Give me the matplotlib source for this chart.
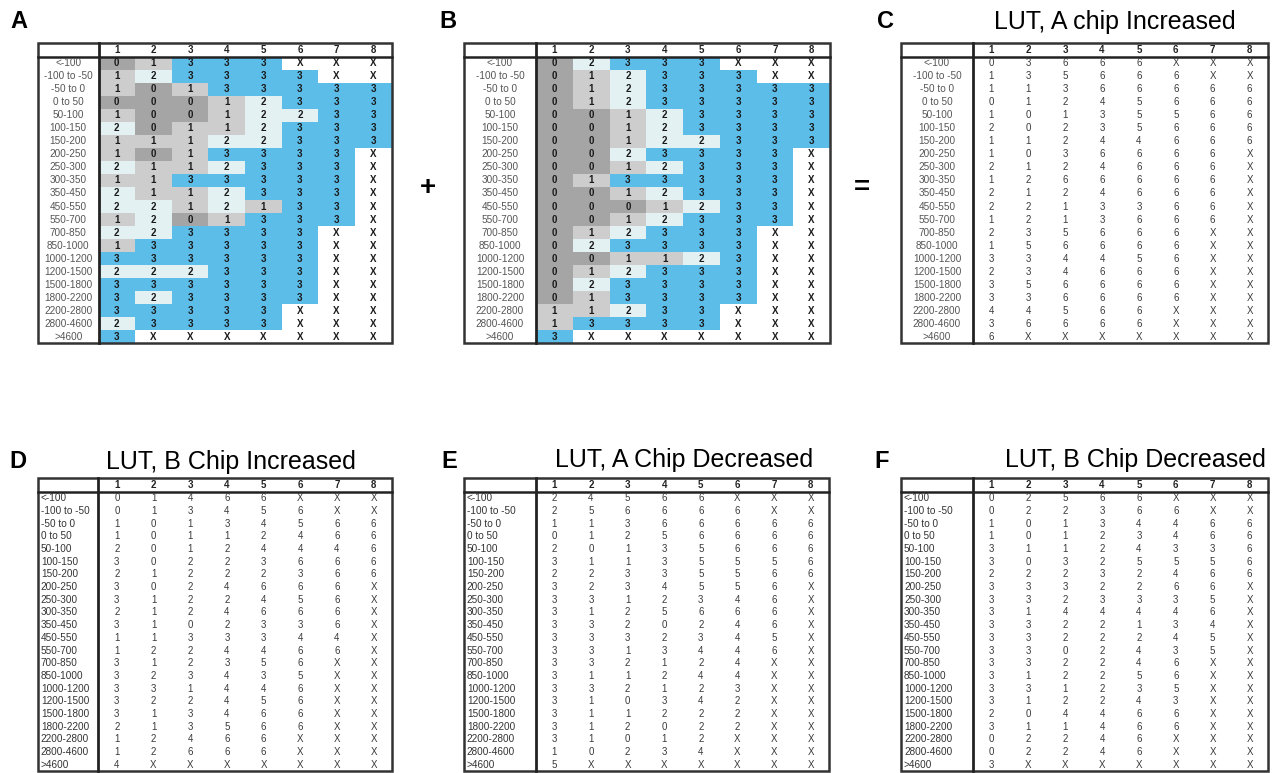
import matplotlib.pyplot as plt
from matplotlib.patches import Rectangle

plt.rcParams['font.family'] = ['Liberation Sans', 'DejaVu Sans']

W, H = 1273, 773
X = None  # chip not tested in that range

ranges = ['<-100', '-100 to -50', '-50 to 0', '0 to 50', '50-100', '100-150',
          '150-200', '200-250', '250-300', '300-350', '350-450', '450-550',
          '550-700', '700-850', '850-1000', '1000-1200', '1200-1500',
          '1500-1800', '1800-2200', '2200-2800', '2800-4600', '>4600']
chips = ['1', '2', '3', '4', '5', '6', '7', '8']

score_a = [
    [0, 1, 3, 3, 3, X, X, X],
    [1, 2, 3, 3, 3, 3, X, X],
    [1, 0, 1, 3, 3, 3, 3, 3],
    [0, 0, 0, 1, 2, 3, 3, 3],
    [1, 0, 0, 1, 2, 2, 3, 3],
    [2, 0, 1, 1, 2, 3, 3, 3],
    [1, 1, 1, 2, 2, 3, 3, 3],
    [1, 0, 1, 3, 3, 3, 3, X],
    [2, 1, 1, 2, 3, 3, 3, X],
    [1, 1, 3, 3, 3, 3, 3, X],
    [2, 1, 1, 2, 3, 3, 3, X],
    [2, 2, 1, 2, 1, 3, 3, X],
    [1, 2, 0, 1, 3, 3, 3, X],
    [2, 2, 3, 3, 3, 3, X, X],
    [1, 3, 3, 3, 3, 3, X, X],
    [3, 3, 3, 3, 3, 3, X, X],
    [2, 2, 2, 3, 3, 3, X, X],
    [3, 3, 3, 3, 3, 3, X, X],
    [3, 2, 3, 3, 3, 3, X, X],
    [3, 3, 3, 3, 3, X, X, X],
    [2, 3, 3, 3, 3, X, X, X],
    [3, X, X, X, X, X, X, X],
]

score_b = [
    [0, 2, 3, 3, 3, X, X, X],
    [0, 1, 2, 3, 3, 3, X, X],
    [0, 1, 2, 3, 3, 3, 3, 3],
    [0, 1, 2, 3, 3, 3, 3, 3],
    [0, 0, 1, 2, 3, 3, 3, 3],
    [0, 0, 1, 2, 3, 3, 3, 3],
    [0, 0, 1, 2, 2, 3, 3, 3],
    [0, 0, 2, 3, 3, 3, 3, X],
    [0, 0, 1, 2, 3, 3, 3, X],
    [0, 1, 3, 3, 3, 3, 3, X],
    [0, 0, 1, 2, 3, 3, 3, X],
    [0, 0, 0, 1, 2, 3, 3, X],
    [0, 0, 1, 2, 3, 3, 3, X],
    [0, 1, 2, 3, 3, 3, X, X],
    [0, 2, 3, 3, 3, 3, X, X],
    [0, 0, 1, 1, 2, 3, X, X],
    [0, 1, 2, 3, 3, 3, X, X],
    [0, 2, 3, 3, 3, 3, X, X],
    [0, 1, 3, 3, 3, 3, X, X],
    [1, 1, 2, 3, 3, X, X, X],
    [1, 3, 3, 3, 3, X, X, X],
    [3, X, X, X, X, X, X, X],
]

lut_a_inc = [
    [0, 3, 6, 6, 6, X, X, X],
    [1, 3, 5, 6, 6, 6, X, X],
    [1, 1, 3, 6, 6, 6, 6, 6],
    [0, 1, 2, 4, 5, 6, 6, 6],
    [1, 0, 1, 3, 5, 5, 6, 6],
    [2, 0, 2, 3, 5, 6, 6, 6],
    [1, 1, 2, 4, 4, 6, 6, 6],
    [1, 0, 3, 6, 6, 6, 6, X],
    [2, 1, 2, 4, 6, 6, 6, X],
    [1, 2, 6, 6, 6, 6, 6, X],
    [2, 1, 2, 4, 6, 6, 6, X],
    [2, 2, 1, 3, 3, 6, 6, X],
    [1, 2, 1, 3, 6, 6, 6, X],
    [2, 3, 5, 6, 6, 6, X, X],
    [1, 5, 6, 6, 6, 6, X, X],
    [3, 3, 4, 4, 5, 6, X, X],
    [2, 3, 4, 6, 6, 6, X, X],
    [3, 5, 6, 6, 6, 6, X, X],
    [3, 3, 6, 6, 6, 6, X, X],
    [4, 4, 5, 6, 6, X, X, X],
    [3, 6, 6, 6, 6, X, X, X],
    [6, X, X, X, X, X, X, X],
]

lut_b_inc = [
    [0, 1, 4, 6, 6, X, X, X],
    [0, 1, 3, 4, 5, 6, X, X],
    [1, 0, 1, 3, 4, 5, 6, 6],
    [1, 0, 1, 1, 2, 4, 6, 6],
    [2, 0, 1, 2, 4, 4, 4, 6],
    [3, 0, 2, 2, 3, 6, 6, 6],
    [2, 1, 2, 2, 2, 3, 6, 6],
    [3, 0, 2, 4, 6, 6, 6, X],
    [3, 1, 2, 2, 4, 5, 6, X],
    [2, 1, 2, 4, 6, 6, 6, X],
    [3, 1, 0, 2, 3, 3, 6, X],
    [1, 1, 3, 3, 3, 4, 4, X],
    [1, 2, 2, 4, 4, 6, 6, X],
    [3, 1, 2, 3, 5, 6, X, X],
    [3, 2, 3, 4, 3, 5, X, X],
    [3, 3, 1, 4, 4, 6, X, X],
    [3, 2, 2, 4, 5, 6, X, X],
    [3, 1, 3, 4, 6, 6, X, X],
    [2, 1, 3, 5, 6, 6, X, X],
    [1, 2, 4, 6, 6, X, X, X],
    [1, 2, 6, 6, 6, X, X, X],
    [4, X, X, X, X, X, X, X],
]

lut_a_dec = [
    [2, 4, 5, 6, 6, X, X, X],
    [2, 5, 6, 6, 6, 6, X, X],
    [1, 1, 3, 6, 6, 6, 6, 6],
    [0, 1, 2, 5, 6, 6, 6, 6],
    [2, 0, 1, 3, 5, 6, 6, 6],
    [3, 1, 1, 3, 5, 5, 5, 6],
    [2, 2, 3, 3, 5, 5, 6, 6],
    [3, 2, 3, 4, 5, 5, 6, X],
    [3, 3, 1, 2, 3, 4, 6, X],
    [3, 1, 2, 5, 6, 6, 6, X],
    [3, 3, 2, 0, 2, 4, 6, X],
    [3, 3, 3, 2, 3, 4, 5, X],
    [3, 3, 1, 3, 4, 4, 6, X],
    [3, 3, 2, 1, 2, 4, X, X],
    [3, 1, 1, 2, 4, 4, X, X],
    [3, 3, 2, 1, 2, 3, X, X],
    [3, 1, 0, 3, 4, 2, X, X],
    [3, 1, 1, 2, 2, 2, X, X],
    [3, 1, 2, 0, 2, 2, X, X],
    [3, 1, 0, 1, 2, X, X, X],
    [1, 0, 2, 3, 4, X, X, X],
    [5, X, X, X, X, X, X, X],
]

lut_b_dec = [
    [0, 2, 5, 6, 6, X, X, X],
    [0, 2, 2, 3, 6, 6, X, X],
    [1, 0, 1, 3, 4, 4, 6, 6],
    [1, 0, 1, 2, 3, 4, 6, 6],
    [3, 1, 1, 2, 4, 3, 3, 6],
    [3, 0, 3, 2, 5, 5, 5, 6],
    [2, 2, 2, 3, 2, 4, 6, 6],
    [3, 3, 3, 2, 2, 6, 6, X],
    [3, 3, 2, 3, 3, 3, 5, X],
    [3, 1, 4, 4, 4, 4, 6, X],
    [3, 3, 2, 2, 1, 3, 4, X],
    [3, 3, 2, 2, 2, 4, 5, X],
    [3, 3, 0, 2, 4, 3, 5, X],
    [3, 3, 2, 2, 4, 6, X, X],
    [3, 1, 2, 2, 5, 6, X, X],
    [3, 3, 1, 2, 3, 5, X, X],
    [3, 1, 2, 2, 4, 3, X, X],
    [2, 0, 4, 4, 6, 6, X, X],
    [3, 1, 1, 4, 6, 6, X, X],
    [0, 2, 2, 4, 6, X, X, X],
    [0, 2, 2, 4, 6, X, X, X],
    [3, X, X, X, X, X, X, X],
]

# cell shading used for the per-chip scores
score_colors = {0: '#a5a5a5', 1: '#cdcdcd', 2: '#e3f1f2', 3: '#5bbde8', X: 'white'}


def draw_table(fig, box, values, shaded=False, centered=True):
    # box = left, top, label divider, header bottom, right, bottom (pixels)
    left, top, divider, head, right, bottom = box
    ax = fig.add_axes([left / W, 1 - bottom / H, (right - left) / W, (bottom - top) / H])
    col_w = (right - divider) / 8
    row_h = (bottom - head) / 22
    lab_w = (divider - left) / col_w
    head_h = (head - top) / row_h
    ax.set_xlim(-lab_w, 8)
    ax.set_ylim(22, -head_h)
    ax.axis('off')

    for i, row in enumerate(values):
        for j, v in enumerate(row):
            if shaded:
                ax.add_patch(Rectangle((j, i), 1, 1, fc=score_colors[v], ec='none'))
            txt = 'X' if v is None else str(v)
            ax.text(j + 0.5, i + 0.52, txt, ha='center', va='center',
                    fontsize=7, fontweight='bold' if shaded else 'normal',
                    color='#1a1a1a' if shaded else '#3a3a3a')
        if centered:
            ax.text(-lab_w / 2, i + 0.52, ranges[i], ha='center', va='center',
                    fontsize=7.2, color='#555555')
        else:
            ax.text(-lab_w + 0.08, i + 0.52, ranges[i], ha='left', va='center',
                    fontsize=7.2, color='#333333')

    for j, c in enumerate(chips):
        ax.text(j + 0.5, -head_h * 0.45, c, ha='center', va='center',
                fontsize=7, fontweight='bold', color='#222222')

    ax.plot([-lab_w, 8], [0, 0], color='#222222', lw=1.8, clip_on=False)
    ax.plot([0, 0], [-head_h, 22], color='#222222', lw=2.0, clip_on=False)
    ax.add_patch(Rectangle((-lab_w, -head_h), lab_w + 8, 22 + head_h, fill=False,
                           ec='#333333', lw=1.8, clip_on=False))
    return ax


fig = plt.figure(figsize=(W / 100, H / 100), dpi=100)

draw_table(fig, (38, 43, 98.5, 56.5, 391.5, 343), score_a, shaded=True)
draw_table(fig, (464, 43, 536, 56.5, 830, 343), score_b, shaded=True)
draw_table(fig, (901, 43, 973, 56.5, 1268, 343), lut_a_inc)
draw_table(fig, (38, 478, 98.5, 491.5, 392, 771), lut_b_inc, centered=False)
draw_table(fig, (464, 478, 536, 491.5, 829, 771), lut_a_dec, centered=False)
draw_table(fig, (901, 478, 973, 491.5, 1268, 771), lut_b_dec, centered=False)


def ftext(x, y, s, **kw):
    fig.text(x / W, 1 - y / H, s, ha='center', va='center', **kw)


for x, y, s in [(19, 22, 'A'), (448, 22, 'B'), (885, 22, 'C'),
                (18, 462, 'D'), (449, 462, 'E'), (882, 462, 'F')]:
    ftext(x, y, s, fontsize=17, fontweight='bold')

ftext(1115, 22, 'LUT, A chip Increased', fontsize=18)
ftext(231, 462, 'LUT, B Chip Increased', fontsize=18)
ftext(684, 460, 'LUT, A Chip Decreased', fontsize=18)
ftext(1135, 460, 'LUT, B Chip Decreased', fontsize=18)

ftext(428, 188, '+', fontsize=20, fontweight='bold')
ftext(862, 188, '=', fontsize=20, fontweight='bold')

fig.savefig('out.png', dpi=100, facecolor='white')
